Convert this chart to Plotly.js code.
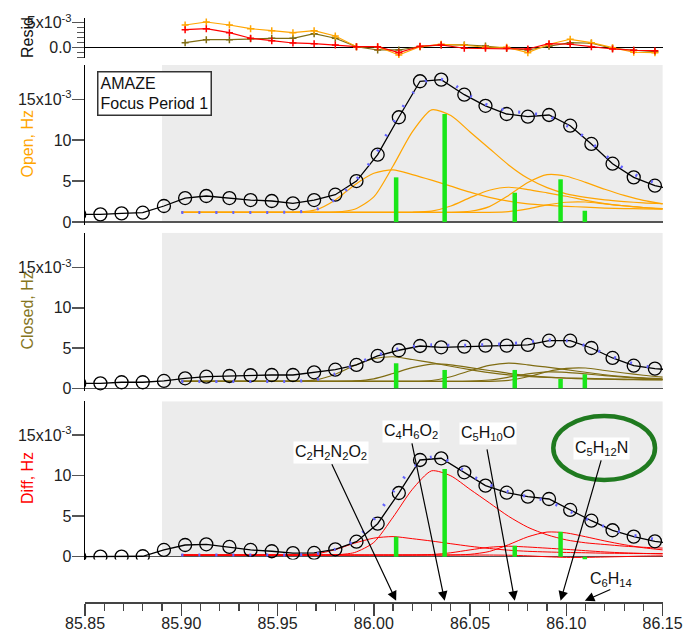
<!DOCTYPE html>
<html>
<head>
<meta charset="utf-8">
<script src="https://cdn.plot.ly/plotly-3.0.1.min.js"></script>
<style>
  html, body { margin: 0; padding: 0; background: #ffffff; }
  #chart { width: 683px; height: 637px; }
</style>
</head>
<body>
<div id="chart"></div>
<script>
// ---- measured spectrum (m/z, signal in 1e-3 Hz) ----
const mz = [85.847, 85.858, 85.869, 85.880, 85.891, 85.902, 85.913, 85.925, 85.936, 85.947,
            85.958, 85.969, 85.980, 85.991, 86.002, 86.013, 86.024, 86.035, 86.047, 86.058,
            86.069, 86.080, 86.091, 86.102, 86.113, 86.124, 86.135, 86.146, 86.157];
const openHz   = [0.94, 0.94, 1.06, 1.14, 1.96, 2.93, 3.18, 2.93, 2.69, 2.57,
                  2.29, 2.69, 3.34, 5.01, 8.23, 12.8, 17.2, 17.4, 15.56, 14.2,
                  13.2, 12.87, 13.08, 11.77, 9.54, 7.13, 5.46, 4.44, 3.9];
const closedHz = [0.62, 0.62, 0.75, 0.75, 0.91, 1.24, 1.44, 1.53, 1.62, 1.65,
                  1.65, 1.99, 2.31, 2.90, 4.02, 4.73, 5.26, 5.10, 5.17, 5.30,
                  5.30, 5.39, 5.92, 5.92, 5.01, 3.77, 2.81, 2.44, 2.25];
const diffHz   = [0.0, 0.0, 0.0, 0.05, 0.83, 1.44, 1.53, 1.20, 0.83, 0.67,
                  0.45, 0.46, 0.91, 1.85, 4.07, 7.86, 11.94, 12.15, 10.42, 8.77,
                  7.9, 7.41, 7.12, 5.77, 4.44, 3.26, 2.47, 1.9, 1.55];

// ---- fit residuals ----
const residMz = [85.902, 85.913, 85.925, 85.936, 85.947, 85.958, 85.969, 85.980, 85.991, 86.002,
                 86.013, 86.024, 86.035, 86.047, 86.058, 86.069, 86.080, 86.091, 86.102, 86.113,
                 86.124, 86.135, 86.146];
const residOpen   = [4.54, 5.14, 4.54, 3.8, 3.4, 3.0, 3.4, 2.34, 0.2, 0.2,
                     -1.46, 0.2, 0.68, 0.48, 0.08, 0.08, -1.0, 0.68, 1.68, 1.0,
                     0.0, -0.92, -1.0];
const residClosed = [1.0, 1.6, 1.6, 1.8, 1.88, 1.88, 2.8, 1.88, 0.2, -0.46,
                     -0.46, 0.2, 0.54, 0.54, 0.34, -0.12, -0.46, 0.28, 1.0, 0.88,
                     -0.12, -0.52, -0.8];
const residDiff   = [3.6, 3.8, 3.0, 1.88, 1.4, 0.94, 0.8, 0.54, 0.2, 0.2,
                     -1.0, 0.28, 0.54, -0.12, -0.12, -0.12, -0.26, 0.8, 0.68, 0.2,
                     -0.26, -0.52, -0.6];

// ---- fitted peak components (absolute, baseline included) ----
const fitMz = [85.90, 85.91, 85.92, 85.93, 85.94, 85.95, 85.96, 85.97, 85.98, 85.99,
               86.00, 86.01, 86.02, 86.03, 86.04, 86.05, 86.06, 86.07, 86.08, 86.09,
               86.10, 86.11, 86.12, 86.13, 86.14, 86.15];

const openA = [1.18, 1.18, 1.18, 1.18, 1.18, 1.18, 1.22, 1.50, 2.70, 4.54,
               5.96, 6.38, 5.80, 5.12, 4.38, 3.65, 3.02, 2.55, 2.23, 2.05,
               1.92, 1.82, 1.71, 1.65, 1.61, 1.57];
const openB = [1.18, 1.18, 1.18, 1.18, 1.18, 1.18, 1.18, 1.18, 1.22, 1.56,
               3.07, 6.85, 11.01, 13.70, 13.02, 11.01, 8.99, 6.98, 5.34, 4.20,
               3.45, 3.01, 2.70, 2.50, 2.35, 2.25];
const openC = [1.18, 1.18, 1.18, 1.18, 1.18, 1.18, 1.18, 1.18, 1.18, 1.18,
               1.18, 1.18, 1.20, 1.34, 1.96, 2.98, 3.88, 4.25, 3.97, 3.57,
               3.15, 2.65, 2.25, 1.97, 1.78, 1.64];
const openD = [1.18, 1.18, 1.18, 1.18, 1.18, 1.18, 1.18, 1.18, 1.18, 1.18,
               1.18, 1.18, 1.18, 1.18, 1.19, 1.32, 1.89, 3.25, 4.82, 5.79,
               5.60, 4.85, 4.00, 3.25, 2.64, 2.21];
const openE = [1.18, 1.18, 1.18, 1.18, 1.18, 1.18, 1.18, 1.18, 1.18, 1.18,
               1.18, 1.18, 1.18, 1.18, 1.18, 1.18, 1.19, 1.28, 1.62, 2.10,
               2.42, 2.45, 2.22, 1.99, 1.77, 1.60];
const openFit = [1.18, 1.18, 1.18, 1.18, 1.18, 1.18, 1.22, 1.54, 2.78, 4.94,
                 7.9, 12.1, 15.7, 17.6, 17.0, 15.4, 14.2, 13.6, 13.3, 13.0,
                 11.8, 10.3, 8.2, 6.5, 5.3, 4.5];

const closedA = [0.85, 0.85, 0.85, 0.85, 0.85, 0.85, 0.87, 1.04, 1.75, 2.83,
                 3.67, 3.92, 3.58, 3.18, 2.74, 2.31, 1.94, 1.66, 1.47, 1.36,
                 1.28, 1.23, 1.16, 1.13, 1.10, 1.08];
const closedB = [0.85, 0.85, 0.85, 0.85, 0.85, 0.85, 0.85, 0.85, 0.86, 0.92,
                 1.18, 1.84, 2.57, 3.01, 2.92, 2.57, 2.21, 1.86, 1.58, 1.38,
                 1.25, 1.17, 1.13, 1.07, 1.05, 1.03];
const closedC = [0.85, 0.85, 0.85, 0.85, 0.85, 0.85, 0.85, 0.85, 0.85, 0.85,
                 0.85, 0.85, 0.86, 0.97, 1.43, 2.18, 2.85, 3.13, 2.92, 2.62,
                 2.31, 1.99, 1.68, 1.45, 1.29, 1.18];
const closedD = [0.85, 0.85, 0.85, 0.85, 0.85, 0.85, 0.85, 0.85, 0.85, 0.85,
                 0.85, 0.85, 0.85, 0.85, 0.85, 0.89, 1.03, 1.38, 1.78, 2.03,
                 1.98, 1.79, 1.57, 1.38, 1.22, 1.11];
const closedE = [0.85, 0.85, 0.85, 0.85, 0.85, 0.85, 0.85, 0.85, 0.85, 0.85,
                 0.85, 0.85, 0.85, 0.85, 0.85, 0.85, 0.87, 0.99, 1.43, 2.06,
                 2.47, 2.52, 2.21, 1.90, 1.62, 1.39];
const closedFit = [0.85, 0.85, 0.85, 0.85, 0.85, 0.85, 0.87, 1.08, 1.80, 2.95,
                   3.95, 4.75, 5.2, 5.4, 5.35, 5.35, 5.45, 5.55, 5.75, 6.0,
                   5.9, 5.3, 4.3, 3.4, 2.8, 2.35];

const diffA = [0.2, 0.2, 0.2, 0.2, 0.2, 0.2, 0.22, 0.34, 0.87, 1.67,
               2.29, 2.48, 2.22, 1.93, 1.60, 1.28, 1.01, 0.80, 0.66, 0.58,
               0.52, 0.48, 0.43, 0.41, 0.39, 0.37];
const diffB = [0.2, 0.2, 0.2, 0.2, 0.2, 0.2, 0.2, 0.2, 0.23, 0.51,
               1.76, 4.88, 8.31, 10.6, 9.98, 8.31, 6.65, 4.98, 3.63, 2.70,
               2.07, 1.71, 1.50, 1.30, 1.16, 1.06];
const diffC = [0.2, 0.2, 0.2, 0.2, 0.2, 0.2, 0.2, 0.2, 0.2, 0.2,
               0.2, 0.2, 0.21, 0.26, 0.48, 0.84, 1.16, 1.29, 1.19, 1.05,
               0.90, 0.74, 0.58, 0.47, 0.40, 0.35];
const diffD = [0.2, 0.2, 0.2, 0.2, 0.2, 0.2, 0.2, 0.2, 0.2, 0.2,
               0.2, 0.2, 0.2, 0.2, 0.21, 0.29, 0.64, 1.48, 2.45, 3.04,
               2.93, 2.46, 1.94, 1.48, 1.10, 0.84];
const diffE = [0.2, 0.2, 0.2, 0.2, 0.2, 0.2, 0.2, 0.2, 0.2, 0.2,
               0.2, 0.2, 0.2, 0.2, 0.2, 0.2, 0.20, 0.18, 0.10, -0.01,
               -0.09, -0.09, -0.04, 0.01, 0.07, 0.10];
const diffFit = [0.2, 0.2, 0.2, 0.2, 0.2, 0.2, 0.22, 0.36, 0.92, 2.0,
                 4.6, 8.0, 10.9, 12.3, 11.7, 10.1, 8.9, 8.0, 7.4, 6.9,
                 5.8, 4.7, 3.7, 2.9, 2.4, 2.0];

// ---- ion assignments: exact masses and stick heights ----
const ionLabels = ['C<sub>2</sub>H<sub>2</sub>N<sub>2</sub>O<sub>2</sub>',
                   'C<sub>4</sub>H<sub>6</sub>O<sub>2</sub>',
                   'C<sub>5</sub>H<sub>10</sub>O',
                   'C<sub>5</sub>H<sub>12</sub>N',
                   'C<sub>6</sub>H<sub>14</sub>'];
const peakMz = [86.0116, 86.0368, 86.0732, 86.0970, 86.1096];
const stickOpen   = [5.46, 13.2, 3.58, 5.22, 1.38];
const stickClosed = [3.11, 2.28, 2.28, 1.16, 1.74];
const stickDiff   = [2.47, 10.83, 1.36, 3.09, -0.36];

// ---- axis ticks ----
const xTickVals = [85.85, 85.90, 85.95, 86.00, 86.05, 86.10, 86.15];
const xTickText = ['85.85', '85.90', '85.95', '86.00', '86.05', '86.10', '86.15'];
const yTickVals = [0, 5, 10, 15];
const yTickText = ['0', '5', '10', '15x10<sup>-3</sup>'];
const residTickVals = [0, 5];
const residTickText = ['0.0', '5x10<sup>-3</sup>'];

// ---- styling ----
const FONT = '"Liberation Sans", Arial, sans-serif';
const ORANGE = '#ffa500', OLIVE = '#7f6c12', RED = '#ff0000';
const GREEN = '#19e619', FITBLUE = '#6464ff';
const X_RANGE = [85.85, 86.1502];   // tiny pad so the 86.15 tick survives rounding

const traces = [];

function addComponents(comps, color, yax, width) {
  comps.forEach(c => traces.push({
    x: fitMz, y: c, yaxis: yax, type: 'scatter', mode: 'lines',
    line: {color: color, width: width, shape: 'spline', smoothing: 0.7},
    hoverinfo: 'skip'
  }));
}
function addSticks(h, yax) {
  const xs = [], ys = [];
  peakMz.forEach((m, i) => { xs.push(m, m, null); ys.push(0, h[i], null); });
  traces.push({x: xs, y: ys, yaxis: yax, type: 'scatter', mode: 'lines',
               line: {color: GREEN, width: 4.5}, hoverinfo: 'skip'});
}
function addData(y, yax) {
  traces.push({x: mz, y: y, yaxis: yax, type: 'scatter', mode: 'lines+markers',
               line: {color: '#000000', width: 1.3},
               marker: {symbol: 'circle-open', size: 13, color: '#000000', line: {width: 1.3}},
               hoverinfo: 'skip'});
}
function addFit(y, yax) {
  traces.push({x: fitMz, y: y, yaxis: yax, type: 'scatter', mode: 'lines',
               line: {color: FITBLUE, width: 3, dash: '2px,15px', shape: 'spline', smoothing: 0.7},
               hoverinfo: 'skip'});
}

// Residual panel
[[residClosed, OLIVE], [residOpen, ORANGE], [residDiff, RED]].forEach(([r, col]) => {
  traces.push({x: residMz, y: r, yaxis: 'y', type: 'scatter', mode: 'lines+markers',
               line: {color: col, width: 1.2},
               marker: {symbol: 'cross-thin', size: 5, color: col, line: {color: col, width: 1.5}},
               hoverinfo: 'skip'});
});

// Open
addComponents([openA, openB, openC, openD, openE], ORANGE, 'y2', 1.2);
addSticks(stickOpen, 'y2');
addData(openHz, 'y2');
addFit(openFit, 'y2');
// Closed
addComponents([closedA, closedB, closedC, closedD, closedE], OLIVE, 'y3', 1.2);
addSticks(stickClosed, 'y3');
addData(closedHz, 'y3');
addFit(closedFit, 'y3');
// Diff
addComponents([diffA, diffB, diffC, diffD, diffE], RED, 'y4', 1.0);
addSticks(stickDiff, 'y4');
addData(diffHz, 'y4');
addFit(diffFit, 'y4');

const tickFont = {family: FONT, size: 16, color: '#222'};
function panelAxis(domain, top) {
  return {
    domain: domain, range: [-0.35, top], anchor: 'x',
    tickmode: 'array', tickvals: yTickVals, ticktext: yTickText,
    ticks: 'outside', ticklen: 12, tickwidth: 1.5, tickcolor: '#555',
    ticklabelstandoff: -3,
    tickfont: tickFont, showline: true, linecolor: '#000', linewidth: 1.3,
    showgrid: false, zeroline: true, zerolinecolor: '#555', zerolinewidth: 1.5
  };
}

const grayRect = (yref, top) => ({
  type: 'rect', xref: 'x', yref: yref, x0: 85.89, x1: 86.15, y0: 0, y1: top,
  fillcolor: '#ececec', line: {width: 0}, layer: 'below'
});

const annotations = [
  {xref: 'paper', yref: 'paper', x: 0.0208, y: 0.9051, xanchor: 'left', yanchor: 'top',
   text: 'AMAZE<br>Focus Period 1', align: 'left', showarrow: false,
   bgcolor: '#ffffff', bordercolor: '#333', borderwidth: 1.5, borderpad: 2,
   font: {family: FONT, size: 16, color: '#111'}}
];
// axis titles
[['Resid', '#111', 0.9608], ['Open, Hz', ORANGE, 0.7811],
 ['Closed, Hz', '#86761e', 0.4966], ['Diff, Hz', RED, 0.2112]].forEach(([t, c, y]) => {
  annotations.push({xref: 'paper', yref: 'paper', x: -0.1003, y: y, text: t, textangle: -90,
                    showarrow: false, xanchor: 'center', yanchor: 'middle',
                    font: {family: FONT, size: 16, color: c}});
});
// ion labels (paper position, centred) and arrows (tail offset in px) pointing at the exact masses
const labelPos = [[0.4251, 0.2552], [0.5637, 0.2901], [0.6964, 0.2865], [0.8933, 0.2610], [0.9097, 0.0388]];
const arrowTail = [[-65, -138], [-33, -159], [-28, -153], [41, -142], [27, -12]];
ionLabels.forEach((lab, i) => {
  annotations.push({xref: 'paper', yref: 'paper', x: labelPos[i][0], y: labelPos[i][1],
                    xanchor: 'center', yanchor: 'middle',
                    text: lab, showarrow: false, bgcolor: i < 4 ? '#ffffff' : 'rgba(0,0,0,0)',
                    borderpad: 1, font: {family: FONT, size: 16, color: '#111'}});
  annotations.push({xref: 'x', yref: 'paper', x: peakMz[i], y: 0.002, text: '',
                    showarrow: true, arrowhead: 2, arrowsize: 1.6, arrowwidth: 1.2,
                    arrowcolor: '#000', ax: arrowTail[i][0], ay: arrowTail[i][1]});
});

const layout = {
  width: 683, height: 637,
  margin: {l: 85, r: 20, t: 15, b: 35},
  paper_bgcolor: '#ffffff', plot_bgcolor: 'rgba(0,0,0,0)',
  showlegend: false,
  font: {family: FONT, size: 16, color: '#222'},
  xaxis: {
    range: X_RANGE, anchor: 'free', position: 0,
    tickmode: 'array', tickvals: xTickVals, ticktext: xTickText,
    ticks: 'outside', ticklen: 12, tickwidth: 1.5, tickcolor: '#444',
    ticklabelstandoff: -6,
    minor: {tickmode: 'linear', tick0: 85.85, dtick: 0.01, ticks: 'outside', ticklen: 7, tickwidth: 1.2, tickcolor: '#444'},
    showline: true, linecolor: '#444', linewidth: 1.5,
    showgrid: false, zeroline: false, tickfont: tickFont
  },
  yaxis: {
    domain: [0.9268, 0.9949], range: [-2.06, 5.94], anchor: 'x',
    tickmode: 'array', tickvals: residTickVals, ticktext: residTickText,
    ticks: 'outside', ticklen: 12, tickwidth: 1.5, tickcolor: '#555',
    ticklabelstandoff: -3,
    minor: {tickmode: 'linear', tick0: 0, dtick: 1, ticks: 'outside', ticklen: 7, tickwidth: 1.2, tickcolor: '#555'},
    tickfont: tickFont, showline: true, linecolor: '#000', linewidth: 1.3,
    showgrid: false, zeroline: true, zerolinecolor: '#000', zerolinewidth: 1.5
  },
  yaxis2: panelAxis([0.6424, 0.9150], 19.2),
  yaxis3: panelAxis([0.3593, 0.6291], 19.35),
  yaxis4: panelAxis([0.0724, 0.3421], 19.2),
  shapes: [
    grayRect('y2', 19.2), grayRect('y3', 19.35), grayRect('y4', 19.2),
    {type: 'circle', xref: 'paper', yref: 'paper', x0: 0.8102, x1: 0.9862, y0: 0.2078, y1: 0.3169,
     line: {color: '#1f7a1f', width: 4.5}}
  ],
  annotations: annotations
};

Plotly.newPlot('chart', traces, layout, {displayModeBar: false, staticPlot: true});
</script>
</body>
</html>
